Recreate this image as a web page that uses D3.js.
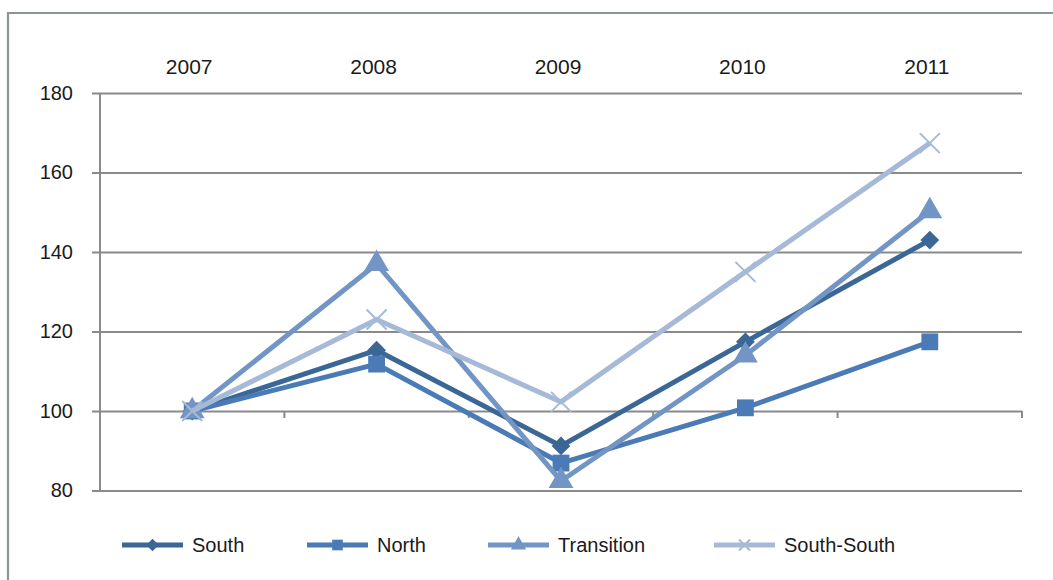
<!DOCTYPE html>
<html>
<head>
<meta charset="utf-8">
<script src="https://cdn.jsdelivr.net/npm/d3@7"></script>
<style>
  html, body { margin: 0; padding: 0; background: #fff; }
  svg { display: block; }
  text { font-family: "Liberation Sans", Arial, Helvetica, sans-serif; fill: #1a1a1a; }
</style>
</head>
<body>
<svg id="chart" width="1053" height="580"></svg>
<script>
// Index values (2007 = 100)
const years = ["2007", "2008", "2009", "2010", "2011"];
const seriesNames = ["South", "North", "Transition", "South-South"];
const south       = [100, 115.3, 91.2, 117.4, 143.0];
const north       = [100, 111.8, 86.9, 100.8, 117.4];
const transition  = [100, 137.0, 82.4, 114.0, 150.3];
const southSouth  = [100, 123.0, 102.3, 135.0, 167.4];
const yTicks = [80, 100, 120, 140, 160, 180];

const seriesValues = [south, north, transition, southSouth];
const colors = ["#3b6797", "#4a7bb6", "#7295c5", "#a6b9d7"];
const symbols = [d3.symbolDiamond2, d3.symbolSquare2, d3.symbolTriangle2, "cross"];

const svg = d3.select("#chart");

// Outer frame (open on the right and bottom)
svg.append("path")
  .attr("d", "M8,590 L8,13 L1060,13")
  .attr("fill", "none")
  .attr("stroke", "#8c9494")
  .attr("stroke-width", 2.2);

const plotLeft = 100, plotRight = 1022, plotTop = 93, plotBottom = 490.5;

const x = d3.scaleBand().domain(years).range([plotLeft, plotRight]);
const y = d3.scaleLinear().domain([80, 180]).range([plotBottom, plotTop]);

// Horizontal gridlines + y labels
const yAxis = d3.axisLeft(y).tickValues(yTicks).tickSize(-(plotRight - plotLeft)).tickPadding(27);
const gy = svg.append("g").attr("transform", `translate(${plotLeft},0)`).call(yAxis);
gy.select(".domain").remove();
gy.selectAll(".tick line")
  .attr("x1", -8)
  .attr("stroke", "#8a8a8a").attr("stroke-width", 2);
gy.selectAll(".tick text")
  .attr("font-size", 20).attr("fill", "#1a1a1a")
  .attr("font-family", "'Liberation Sans', Arial, sans-serif");

// Vertical axis line
svg.append("line")
  .attr("x1", plotLeft).attr("x2", plotLeft)
  .attr("y1", plotTop).attr("y2", plotBottom)
  .attr("stroke", "#8a8a8a").attr("stroke-width", 2);

// Category axis crossing at 100, with ticks at band boundaries
const boundaries = years.map(d => x(d)).concat([plotRight]);
svg.append("g").selectAll("line").data(boundaries.slice(1)).join("line")
  .attr("x1", d => d).attr("x2", d => d)
  .attr("y1", y(100)).attr("y2", y(100) + 7)
  .attr("stroke", "#8a8a8a").attr("stroke-width", 2);

// Year labels along the top
svg.append("g").selectAll("text").data(years).join("text")
  .attr("x", d => x(d) + x.bandwidth() / 2 - 3)
  .attr("y", 73.5)
  .attr("text-anchor", "middle")
  .attr("font-size", 21)
  .text(d => d);

const cx = d => x(d) + x.bandwidth() / 2;

function drawMarker(g, kind, px, py, size, color) {
  if (kind === "cross") {
    const r = size / 2;
    g.append("path")
      .attr("d", `M${px - r},${py - r}L${px + r},${py + r}M${px - r},${py + r}L${px + r},${py - r}`)
      .attr("stroke", color).attr("stroke-width", 2).attr("fill", "none");
  } else {
    g.append("path")
      .attr("d", d3.symbol().type(kind).size(size * size)())
      .attr("transform", `translate(${px},${py})`)
      .attr("fill", color);
  }
}

const line = d3.line().x((d, i) => cx(years[i])).y(d => y(d));
const markerSizes = [15, 19, 21, 20];

seriesValues.forEach((vals, s) => {
  const g = svg.append("g");
  g.append("path")
    .datum(vals)
    .attr("d", line)
    .attr("fill", "none")
    .attr("stroke", colors[s])
    .attr("stroke-width", 5)
    .attr("stroke-linejoin", "miter");
  vals.forEach((v, i) => {
    drawMarker(g, symbols[s], cx(years[i]), y(v), markerSizes[s], colors[s]);
  });
});

// Legend
const legendX = [122, 307, 488, 714];
const legendY = 545;
seriesNames.forEach((name, s) => {
  const g = svg.append("g");
  const x0 = legendX[s];
  g.append("line")
    .attr("x1", x0).attr("x2", x0 + 61)
    .attr("y1", legendY).attr("y2", legendY)
    .attr("stroke", colors[s]).attr("stroke-width", 5);
  drawMarker(g, symbols[s], x0 + 30.5, legendY, [10, 12, 13, 11][s], colors[s]);
  g.append("text")
    .attr("x", x0 + 70)
    .attr("y", legendY + 7)
    .attr("font-size", 20)
    .text(name);
});
</script>
</body>
</html>
